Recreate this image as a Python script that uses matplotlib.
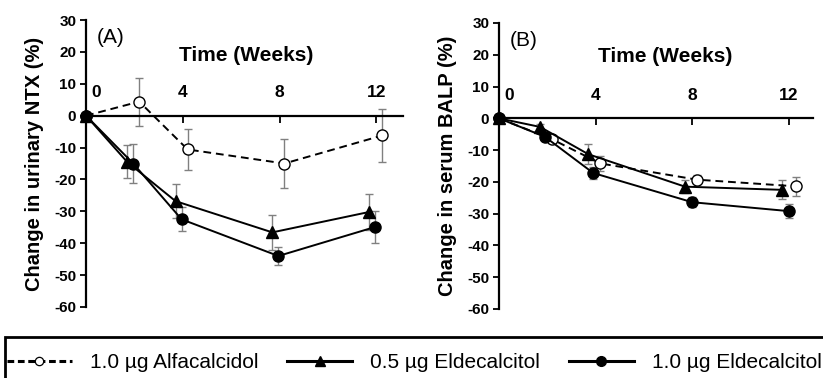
import matplotlib
matplotlib.use("Agg")
import matplotlib.pyplot as plt
import matplotlib.transforms as mtransforms
from matplotlib.lines import Line2D
from matplotlib.patches import Rectangle

plt.rcParams['font.family'] = ['Liberation Sans', 'DejaVu Sans']
plt.rcParams['font.weight'] = 'bold'
plt.rcParams['axes.unicode_minus'] = False

# Panel A: urinary NTX
a_alfa_x = [0, 2.2, 4.2, 8.2, 12.25]
a_alfa_y = [0, 4.4, -10.6, -15.0, -6.2]
a_alfa_e = [0, 7.5, 6.3, 7.6, 8.2]

a_eld05_x = [0, 1.7, 3.7, 7.7, 11.7]
a_eld05_y = [0, -14.5, -26.8, -36.6, -30.2]
a_eld05_e = [0, 5.2, 5.3, 5.6, 5.7]

a_eld10_x = [0, 1.95, 3.95, 7.95, 11.95]
a_eld10_y = [0, -15.0, -32.5, -44.0, -34.9]
a_eld10_e = [0, 6.0, 3.8, 2.8, 5.0]

# Panel B: serum BALP
b_alfa_x = [0, 2.2, 4.2, 8.2, 12.3]
b_alfa_y = [0, -6.6, -14.2, -19.3, -21.4]
b_alfa_e = [0, 1.2, 2.5, 1.5, 3.0]

b_eld05_x = [0, 1.7, 3.7, 7.7, 11.7]
b_eld05_y = [0, -2.7, -11.3, -21.5, -22.5]
b_eld05_e = [0, 1.0, 3.2, 2.0, 3.0]

b_eld10_x = [0, 1.9, 3.9, 8.0, 12.0]
b_eld10_y = [0, -5.8, -17.2, -26.4, -29.2]
b_eld10_e = [0, 1.0, 2.0, 1.5, 2.2]

week_ticks = [0, 4, 8, 12]
y_ticks = [30, 20, 10, 0, -10, -20, -30, -40, -50, -60]
legend_labels = ["1.0 µg Alfacalcidol", "0.5 µg Eldecalcitol", "1.0 µg Eldecalcitol"]

fig = plt.figure(figsize=(8.23, 3.78), dpi=100)


def panel(ax, series, letter, ylabel, xmax, title_x, title_y):
    for x, y, e, ls, mk, mfc in series:
        ax.errorbar(x, y, yerr=e, fmt='none', ecolor='#808080', elinewidth=1.0,
                    capsize=3, capthick=1.0, clip_on=False, zorder=2)
        ax.plot(x, y, color='black', linestyle=ls, linewidth=1.4,
                dashes=(4, 2.5) if ls == '--' else (None, None),
                marker=mk, markersize=8,
                markerfacecolor=mfc, markeredgecolor='black', markeredgewidth=1.0,
                clip_on=False, zorder=3)
    ax.set_xlim(0, xmax)
    ax.set_ylim(-60, 30)
    ax.set_yticks(y_ticks)
    ax.set_xticks(week_ticks)
    ax.spines['right'].set_visible(False)
    ax.spines['bottom'].set_visible(False)
    ax.spines['top'].set_position(('data', 0))
    ax.spines['top'].set_linewidth(1.6)
    ax.spines['left'].set_linewidth(1.6)
    ax.xaxis.set_ticks_position('top')
    ax.tick_params(axis='x', direction='in', length=5, width=1.3, pad=11,
                   labeltop=True, labelbottom=False, labelsize=12.5)
    ax.tick_params(axis='y', direction='out', length=4, width=1.3, pad=3,
                   labelsize=11)
    # nudge the "0" label off the y spine
    zero_lbl = ax.xaxis.get_major_ticks()[0].label2
    zero_lbl.set_transform(zero_lbl.get_transform() +
                           mtransforms.ScaledTranslation(10 / 100, 0, fig.dpi_scale_trans))
    ax.text(title_x, title_y, "Time (Weeks)", fontsize=15, fontweight='bold',
            ha='center', va='center')
    ax.text(0.45, 24.5, letter, fontsize=15, fontweight='normal', ha='left', va='center')
    ax.set_ylabel(ylabel, fontsize=14.5, fontweight='bold', labelpad=7)
    ax.patch.set_alpha(0)


axA = fig.add_axes([86 / 823, 1 - 307 / 378, (403 - 86) / 823, (307 - 20) / 378])
panel(axA, [
    (a_alfa_x, a_alfa_y, a_alfa_e, '--', 'o', 'white'),
    (a_eld05_x, a_eld05_y, a_eld05_e, '-', '^', 'black'),
    (a_eld10_x, a_eld10_y, a_eld10_e, '-', 'o', 'black'),
], "(A)", "Change in urinary NTX (%)", 13.1, 6.6, 19.0)

axB = fig.add_axes([499 / 823, 1 - 309 / 378, (813 - 499) / 823, (309 - 23) / 378])
panel(axB, [
    (b_alfa_x, b_alfa_y, b_alfa_e, '--', 'o', 'white'),
    (b_eld05_x, b_eld05_y, b_eld05_e, '-', '^', 'black'),
    (b_eld10_x, b_eld10_y, b_eld10_e, '-', 'o', 'black'),
], "(B)", "Change in serum BALP (%)", 13.0, 6.9, 19.6)

# legend box running off the right and bottom edges
fig.patches.append(Rectangle((5 / 823, -0.05), 1.0, 0.05 + 1 - 337 / 378,
                             transform=fig.transFigure, fill=False,
                             edgecolor='black', linewidth=2.0))

handles = [
    Line2D([], [], color='black', linestyle='--', dashes=(2.2, 1.2), linewidth=2.2,
           marker='o', markersize=6, markerfacecolor='white', markeredgecolor='black',
           markeredgewidth=0.9),
    Line2D([], [], color='black', linestyle='-', linewidth=2.2,
           marker='^', markersize=7, markerfacecolor='black', markeredgecolor='black'),
    Line2D([], [], color='black', linestyle='-', linewidth=2.2,
           marker='o', markersize=7, markerfacecolor='black', markeredgecolor='black'),
]
fig.legend(handles, legend_labels, loc='center left', bbox_to_anchor=(7 / 823, 1 - 363 / 378),
           ncol=3, frameon=False, borderaxespad=0, borderpad=0,
           prop={'size': 15, 'weight': 'normal'},
           handlelength=3.1, columnspacing=1.4, handletextpad=0.87)

fig.savefig("out.png", dpi=100)
